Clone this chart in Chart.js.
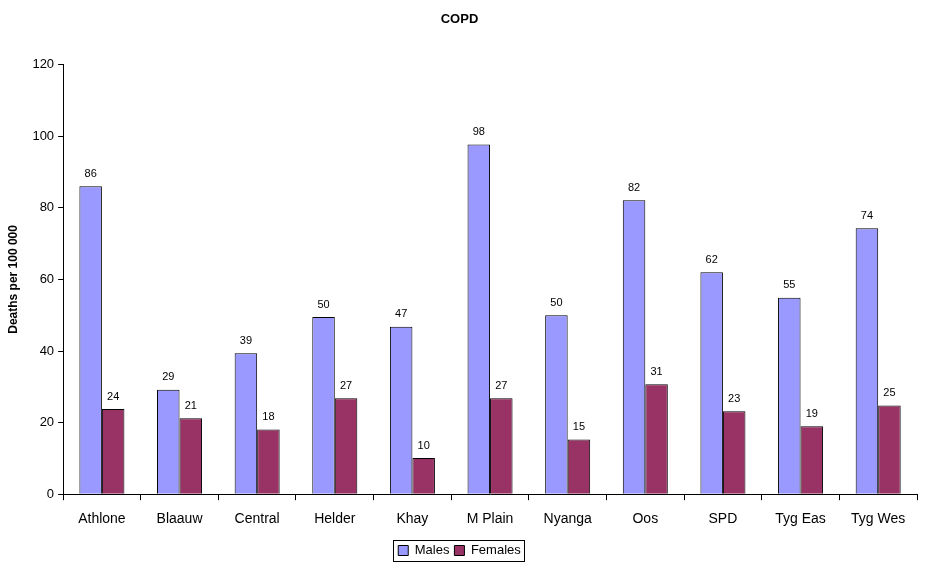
<!DOCTYPE html>
<html lang="en">
<head>
  <meta charset="UTF-8" />
  <title>COPD</title>
  <style>
    html, body { margin: 0; padding: 0; background: #fff; }
    .chart-container { width: 925px; height: 563px; position: relative; }
  </style>
</head>
<body>
  <div class="chart-container">
    <canvas id="copdChart"></canvas>
  </div>

  <script src="https://cdn.jsdelivr.net/npm/chart.js"></script>
  <script>
    // --- Data ---
    const categories = ['Athlone', 'Blaauw', 'Central', 'Helder', 'Khay', 'M Plain', 'Nyanga', 'Oos', 'SPD', 'Tyg Eas', 'Tyg Wes'];
    const males = [86.0, 29.2, 39.4, 49.5, 46.8, 97.7, 50.0, 82.1, 62.0, 54.9, 74.3];
    const females = [23.8, 21.2, 18.1, 26.8, 10.1, 26.8, 15.3, 30.7, 23.2, 19.0, 24.8];
    const yTicks = [0, 20, 40, 60, 80, 100, 120];

    const fontFamily = '"Liberation Sans", Arial, sans-serif';

    // value labels above each bar
    const barLabels = {
      id: 'barLabels',
      afterDatasetsDraw(chart) {
        const ctx = chart.ctx;
        ctx.save();
        ctx.fillStyle = '#000';
        ctx.font = '11px ' + fontFamily;
        ctx.textAlign = 'center';
        ctx.textBaseline = 'bottom';
        chart.data.datasets.forEach((ds, i) => {
          chart.getDatasetMeta(i).data.forEach((bar, j) => {
            ctx.fillText(Math.round(ds.data[j]).toString(), bar.x, bar.y - 7);
          });
        });
        ctx.restore();
      }
    };

    // border around the legend items, like the original
    const legendBox = {
      id: 'legendBox',
      afterDraw(chart) {
        const lg = chart.legend;
        if (!lg || !lg.legendHitBoxes || !lg.legendHitBoxes.length) return;
        const boxes = lg.legendHitBoxes;
        const left = Math.min(...boxes.map(b => b.left)) - 5;
        const right = Math.max(...boxes.map(b => b.left + b.width)) + 3;
        const top = Math.min(...boxes.map(b => b.top)) - 4;
        const bottom = Math.max(...boxes.map(b => b.top + b.height)) + 4;
        const ctx = chart.ctx;
        ctx.save();
        ctx.strokeStyle = '#000';
        ctx.lineWidth = 1;
        ctx.strokeRect(Math.round(left) + 0.5, Math.round(top) + 0.5, Math.round(right - left), Math.round(bottom - top));
        ctx.restore();
      }
    };

    new Chart(document.getElementById('copdChart'), {
      type: 'bar',
      data: {
        labels: categories,
        datasets: [
          { label: 'Males', data: males, backgroundColor: '#9999FF', borderColor: '#000', borderWidth: 1 },
          { label: 'Females', data: females, backgroundColor: '#993366', borderColor: '#000', borderWidth: 1 }
        ]
      },
      options: {
        responsive: true,
        maintainAspectRatio: false,
        animation: false,
        categoryPercentage: 0.58,
        barPercentage: 1.0,
        layout: { padding: { left: 2, right: 8, top: 4, bottom: -4 } },
        scales: {
          y: {
            min: 0,
            max: 120,
            afterBuildTicks(axis) { axis.ticks = yTicks.map(v => ({ value: v })); },
            title: { display: true, text: 'Deaths per 100 000', color: '#000', font: { family: fontFamily, size: 12, weight: 'bold' }, padding: { bottom: 8 } },
            ticks: { color: '#000', font: { family: fontFamily, size: 13 }, padding: 4 },
            grid: { drawOnChartArea: false, drawTicks: true, tickLength: 5, color: '#000' },
            border: { display: true, color: '#000' }
          },
          x: {
            ticks: { color: '#000', font: { family: fontFamily, size: 14 }, padding: 11 },
            grid: { offset: true, drawOnChartArea: false, drawTicks: true, tickLength: 6, color: '#000' },
            border: { display: true, color: '#000' }
          }
        },
        plugins: {
          title: { display: true, text: 'COPD', color: '#000', font: { family: fontFamily, size: 13, weight: 'bold' }, padding: { top: 8, bottom: 37 } },
          legend: {
            position: 'bottom',
            labels: { color: '#000', font: { family: fontFamily, size: 13 }, boxWidth: 10, boxHeight: 10, padding: 5 }
          },
          tooltip: { enabled: false }
        }
      },
      plugins: [barLabels, legendBox]
    });
  </script>
</body>
</html>
